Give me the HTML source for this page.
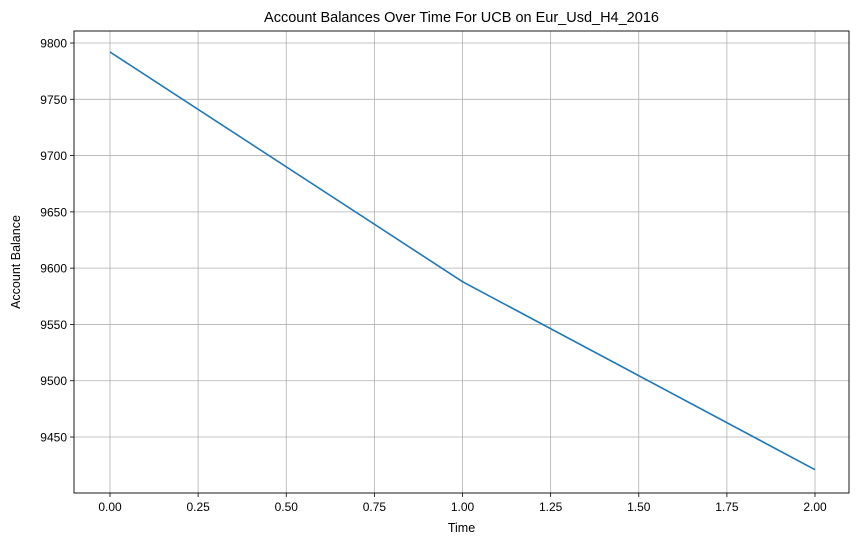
<!DOCTYPE html>
<html><head><meta charset="utf-8"><style>
body{margin:0;background:#fff;}
svg text{font-family:"Liberation Sans","DejaVu Sans",sans-serif;fill:#000;}
</style></head><body>
<svg id="chart" width="859" height="545" xmlns="http://www.w3.org/2000/svg">
<rect width="859" height="545" fill="#fff"/>
<g id="grid"></g>
<g id="ticks"></g>
<path id="line" fill="none" stroke="#1f77b4" stroke-width="1.6"/>
<rect x="74" y="31" width="775" height="462" fill="none" stroke="#000" stroke-width="0.9"/>
<text x="461.5" y="22" font-size="14.5" text-anchor="middle">Account Balances Over Time For UCB on Eur_Usd_H4_2016</text>
<text x="461.5" y="532" font-size="12.5" text-anchor="middle">Time</text>
<text transform="translate(20,262) rotate(-90)" font-size="12.5" text-anchor="middle">Account Balance</text>
</svg>
<script>
const times=[0,1,2];
const balances=[9792,9588,9421];
const xTicks=[0,0.25,0.5,0.75,1,1.25,1.5,1.75,2];
const yTicks=[9450,9500,9550,9600,9650,9700,9750,9800];
const L=74,R=849,T=31,B=493;
function xs(v){return 110+v*352.5;}
function ys(v){return 43+(9800-v)/50*56.29;}
const ns="http://www.w3.org/2000/svg";
const grid=document.getElementById('grid'),tk=document.getElementById('ticks');
function mk(tag,attrs,parent){const e=document.createElementNS(ns,tag);for(const k in attrs)e.setAttribute(k,attrs[k]);parent.appendChild(e);return e;}
xTicks.forEach(v=>{const x=xs(v);
 const g=mk('line',{x1:x,x2:x,y1:T,y2:B,stroke:'#b0b0b0','stroke-width':0.8},grid);
 
 
 const t=mk('line',{x1:x,x2:x,y1:B,y2:B+4,stroke:'#000','stroke-width':0.8},tk);
 
 
 const l=mk('text',{x:x,y:B+18,'font-size':12,'text-anchor':'middle'},tk);l.textContent=v.toFixed(2);
 
 
});
yTicks.forEach(v=>{const y=ys(v);
 const g=mk('line',{x1:L,x2:R,y1:y,y2:y,stroke:'#b0b0b0','stroke-width':0.8},grid);
 
 
 const t=mk('line',{x1:L-4,x2:L,y1:y,y2:y,stroke:'#000','stroke-width':0.8},tk);
 
 
 const l=mk('text',{x:L-7,y:y+4.5,'font-size':12,'text-anchor':'end'},tk);l.textContent=v;
 
 
});
document.getElementById('line').setAttribute('d',times.map((t,i)=>(i?'L':'M')+xs(t)+','+ys(balances[i])).join(' '));
</script>
</body></html>
